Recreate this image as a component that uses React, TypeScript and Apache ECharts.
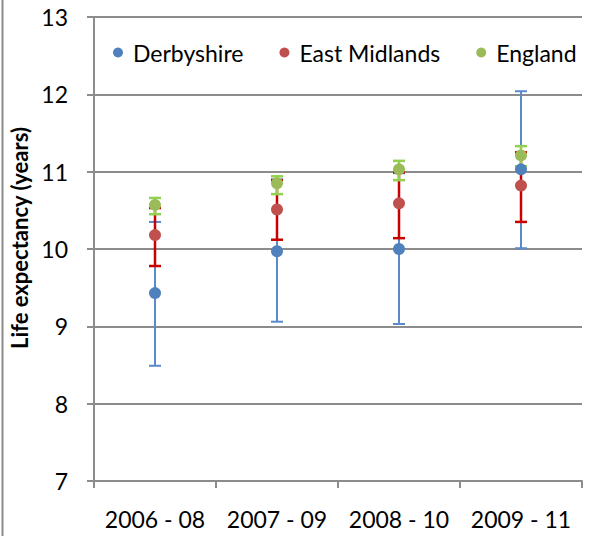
import React, { useEffect, useRef } from "react";
import * as echarts from "echarts";

const categories = ["2006 - 08", "2007 - 09", "2008 - 10", "2009 - 11"];
const derbyshire = [9.43, 9.97, 10.0, 11.03];
const derbyshireLow = [8.49, 9.06, 9.03, 10.01];
const derbyshireHigh = [10.35, 10.9, 10.98, 12.04];
const eastMidlands = [10.18, 10.51, 10.59, 10.82];
const eastMidlandsLow = [9.78, 10.12, 10.14, 10.35];
const eastMidlandsHigh = [10.53, 10.89, 10.99, 11.25];
const england = [10.57, 10.85, 11.03, 11.21];
const englandLow = [10.45, 10.71, 10.89, 11.07];
const englandHigh = [10.66, 10.94, 11.14, 11.33];

const FONT = "Lato";

function errorSeries(low: number[], high: number[], color: string, width: number) {
  return {
    type: "custom",
    z: 2,
    silent: true,
    data: low.map((l, i) => [i, l, high[i]]),
    renderItem: (params: any, api: any) => {
      const lo = api.coord([api.value(0), api.value(1)]);
      const hi = api.coord([api.value(0), api.value(2)]);
      const x = lo[0];
      const hw = 6;
      const style = { stroke: color, lineWidth: width };
      return {
        type: "group",
        children: [
          { type: "line", shape: { x1: x, y1: lo[1], x2: x, y2: hi[1] }, style },
          { type: "line", shape: { x1: x - hw, y1: lo[1], x2: x + hw, y2: lo[1] }, style },
          { type: "line", shape: { x1: x - hw, y1: hi[1], x2: x + hw, y2: hi[1] }, style },
        ],
      };
    },
  };
}

function pointSeries(name: string, values: number[], color: string) {
  return {
    name,
    type: "scatter",
    z: 5,
    symbol: "circle",
    symbolSize: 12,
    itemStyle: { color, opacity: 1 },
    data: values.map((v, i) => [i, v]),
  };
}

export default function App() {
  const ref = useRef<HTMLDivElement>(null);
  useEffect(() => {
    if (!ref.current) return;
    const chart = echarts.init(ref.current, undefined, { renderer: "svg" });
    chart.setOption({
      animation: false,
      backgroundColor: "#ffffff",
      textStyle: { fontFamily: FONT },
      grid: { left: 94, right: 9, top: 17, bottom: 55 },
      legend: {
        left: 108,
        top: 36,
        itemWidth: 10,
        itemHeight: 10,
        itemGap: 36,
        icon: "circle",
        textStyle: { fontFamily: FONT, fontSize: 23, color: "#000", padding: [0, 0, 0, 5] },
        data: ["Derbyshire", "East Midlands", "England"],
      },
      graphic: [
        {
          type: "line",
          shape: { x1: 2.5, y1: 0, x2: 2.5, y2: 536 },
          style: { stroke: "#8c8c8c", lineWidth: 2 },
        },
      ],
      xAxis: {
        type: "category",
        data: categories,
        boundaryGap: true,
        axisLine: { show: true, lineStyle: { color: "#8c8c8c", width: 2 } },
        axisTick: { show: true, length: 7, interval: 0, alignWithLabel: false, lineStyle: { color: "#8c8c8c", width: 2 } },
        axisLabel: { interval: 0, margin: 26, fontFamily: FONT, fontSize: 23, color: "#000" },
        splitLine: { show: false },
      },
      yAxis: {
        type: "value",
        min: 7,
        max: 13,
        interval: 1,
        name: "Life expectancy (years)",
        nameLocation: "middle",
        nameGap: 53,
        nameRotate: 90,
        nameTextStyle: { fontFamily: FONT, fontSize: 22, fontWeight: "bold", color: "#000", padding: [0, 0, 0, 22] },
        axisLine: { show: true, lineStyle: { color: "#8c8c8c", width: 2 } },
        axisTick: { show: true, length: 7, lineStyle: { color: "#8c8c8c", width: 2 } },
        axisLabel: { margin: 26, fontFamily: FONT, fontSize: 23, color: "#000" },
        splitLine: { show: true, lineStyle: { color: "#8c8c8c", width: 2 } },
      },
      series: [
        errorSeries(derbyshireLow, derbyshireHigh, "#5a8acb", 2),
        errorSeries(eastMidlandsLow, eastMidlandsHigh, "#c80000", 2.5),
        errorSeries(englandLow, englandHigh, "#92d050", 2.5),
        pointSeries("Derbyshire", derbyshire, "#4f81bd"),
        pointSeries("East Midlands", eastMidlands, "#c0504d"),
        pointSeries("England", england, "#9bbb59"),
      ],
    });
    return () => chart.dispose();
  }, []);
  return (
    <div
      ref={ref}
      style={{ position: "fixed", left: 0, top: 0, width: 591, height: 536, background: "#fff" }}
    />
  );
}
